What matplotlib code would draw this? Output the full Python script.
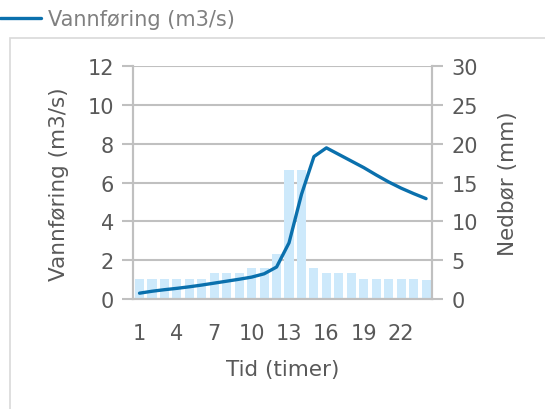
import matplotlib.pyplot as plt
from matplotlib.patches import Rectangle

# timer 1..24
hours = list(range(1, 25))
vannforing = [0.30, 0.40, 0.48, 0.55, 0.63, 0.72, 0.82, 0.92, 1.02, 1.13, 1.30, 1.65,
              2.90, 5.40, 7.35, 7.80, 7.46, 7.12, 6.78, 6.40, 6.04, 5.72, 5.44, 5.18]
nedbor = [2.6, 2.6, 2.6, 2.6, 2.6, 2.6, 3.4, 3.4, 3.4, 4.0, 4.0, 5.8,
          16.7, 16.7, 4.0, 3.4, 3.4, 3.4, 2.6, 2.6, 2.6, 2.6, 2.6, 2.4]
x_ticks = [1, 4, 7, 10, 13, 16, 19, 22]

text_col = '#595959'
grid_col = '#c0c0c0'
line_col = '#0a70ad'
bar_col = '#cde9fb'

plt.rcParams['font.family'] = ['DejaVu Sans']

fig = plt.figure(figsize=(5.45, 4.10), dpi=100)
ax = fig.add_axes([0.2446, 0.2683, 0.5486, 0.5671])
ax2 = ax.twinx()

# bars on the right axis, line on top of them
ax2.bar(hours, nedbor, width=0.73, color=bar_col, zorder=2)
ax2.set_ylim(0, 30)
ax2.set_yticks(range(0, 31, 5))
ax2.grid(axis='y', color=grid_col, linewidth=1.5, zorder=0)
ax2.set_axisbelow(True)

ax.set_zorder(ax2.get_zorder() + 1)
ax.patch.set_visible(False)
line, = ax.plot(hours, vannforing, color=line_col, linewidth=2.4,
                label='Vannføring (m3/s)', solid_capstyle='round')
ax.set_ylim(0, 12)
ax.set_yticks(range(0, 13, 2))
ax.set_xlim(0.5, 24.5)
ax.set_xticks(x_ticks)

for a in (ax, ax2):
    for s in a.spines.values():
        s.set_color(grid_col)
        s.set_linewidth(1.5)
    a.spines['top'].set_visible(False)
    a.tick_params(axis='y', length=8, width=1.5, color=grid_col,
                  labelsize=15, labelcolor=text_col, pad=6)
ax.tick_params(axis='x', length=0, labelsize=15, labelcolor=text_col, pad=17)

ax.set_xlabel('Tid (timer)', fontsize=15.5, color=text_col, labelpad=12)
ax.set_ylabel('Vannføring (m3/s)', fontsize=15.5, color=text_col, labelpad=13)
ax2.set_ylabel('Nedbør (mm)', fontsize=15.5, color=text_col, labelpad=14)

# chart area border
fig.patches.append(Rectangle((10 / 545, -0.1), 1.2, 1.1 - 39 / 410,
                             transform=fig.transFigure, fill=False,
                             edgecolor='#d9d9d9', linewidth=1.2))

fig.legend(handles=[line], loc='upper left', bbox_to_anchor=(-0.012, 0.99),
           frameon=False, fontsize=15, labelcolor='#808080',
           handlelength=2.0, handletextpad=0.3, borderpad=0.3,
           borderaxespad=0)

fig.savefig('out.png', dpi=100)
